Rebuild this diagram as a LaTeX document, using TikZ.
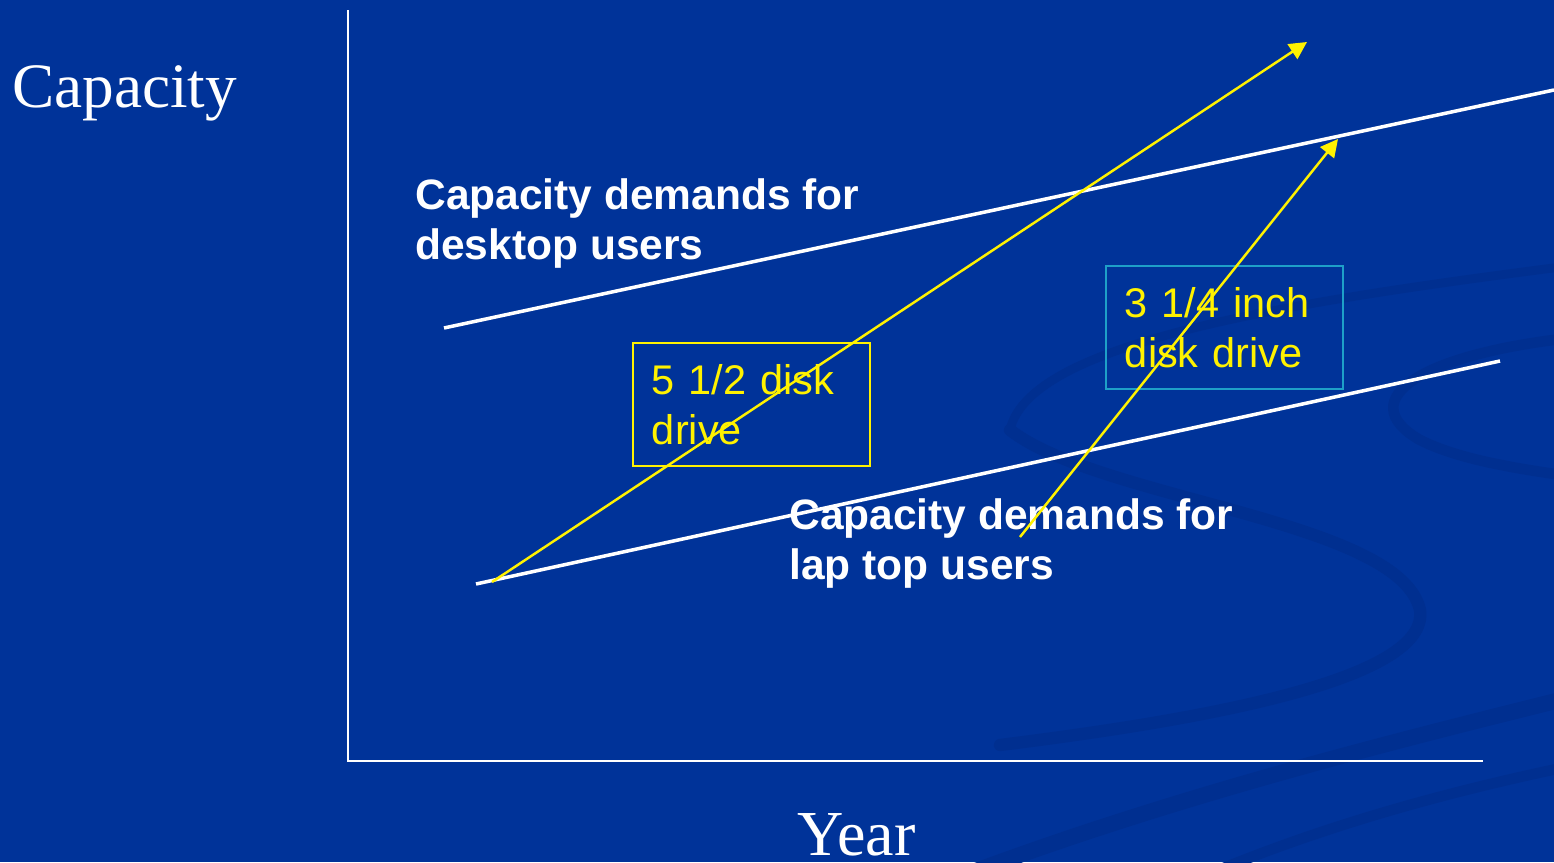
\documentclass[tikz,border=0pt]{standalone}
\usepackage{fontspec}
\setmainfont{Liberation Serif}
\newfontfamily\arialfont{Liberation Sans}
\usetikzlibrary{positioning}
\usetikzlibrary{arrows.meta}
\definecolor{slideblue}{RGB}{0,51,153}
\definecolor{swirlblue}{RGB}{0,47,144}
\definecolor{boxteal}{RGB}{30,160,200}

\begin{document}
\begin{tikzpicture}[x=0.02cm, y=-0.02cm,
        trend/.style={white, line width=2pt},
        drive/.style={yellow, line width=1.4pt, -{Triangle[width=10pt,length=10pt]}},
        drivebox/.style={draw, line width=1.1pt, anchor=north west, align=left,
            text width=3.98cm, inner xsep=0.38cm, inner ysep=12pt, text=yellow,
            font=\arialfont\fontsize{23.6}{28.9}\selectfont},
        trendtext/.style={anchor=north west, inner sep=0, align=left, text=white,
            font=\arialfont\bfseries\fontsize{24.2}{28.9}\selectfont},
        axistext/.style={anchor=base west, inner sep=0, text=white}]
    % background and swirl
    \useasboundingbox (0,0) rectangle (1554,862);
    \fill[slideblue] (0,0) rectangle (1554,862);
    \begin{scope}[swirlblue, line cap=round]
        \clip (0,0) rectangle (1554,862);
        \draw[line width=5pt] (1010,430) .. controls (1030,340) and (1300,300) .. (1600,262);
        \draw[line width=6pt] (1600,335) .. controls (1420,350) and (1350,400) .. (1420,440)
            .. controls (1460,460) and (1520,470) .. (1600,480);
        \draw[line width=7pt] (1010,430) .. controls (1100,500) and (1400,520) .. (1420,610)
            .. controls (1430,680) and (1200,720) .. (1000,745);
        \draw[line width=9pt] (1600,690) .. controls (1400,740) and (1150,800) .. (900,900);
        \draw[line width=6pt] (1600,760) .. controls (1450,790) and (1300,830) .. (1150,900);
    \end{scope}
    % axes
    \coordinate (top) at (348,10);
    \coordinate (origin) at (348,761);
    \coordinate (xend) at (1483,761);
    \draw[white, line width=1.1pt] (top) -- (origin) -- (xend);
    \node[axistext, font=\fontsize{36}{40}\selectfont] (capacity) at (12,107) {Capacity};
    \node[axistext, font=\fontsize{36.5}{40}\selectfont] (year) at (797,855) {Year};

    % demand lines
    \coordinate (desk1) at (444,328);
    \coordinate (desk2) at (1554,90);
    \coordinate (lap1) at (476,584);
    \coordinate (lap2) at (1500,361);
    \draw[trend] (desk1) -- (desk2);
    \draw[trend] (lap1) -- (lap2);
    \node[trendtext] (desktop) at (415,178) {Capacity demands for\\desktop users};
    \node[trendtext] (laptop) at (789,498) {Capacity demands for\\lap top users};

    % disk drives
    \node[drivebox, draw=yellow] (big) at (632,342) {5 1/2 disk\\drive};
    \node[drivebox, draw=boxteal] (small) at (1105,265) {3 1/4 inch\\disk drive};
    \coordinate (big1) at (492,582);
    \coordinate (big2) at (1307,42);
    \coordinate (small1) at (1020,537);
    \coordinate (small2) at (1338,139);
    \draw[drive] (big1) -- (big2);
    \draw[drive] (small1) -- (small2);
\end{tikzpicture}
\end{document}
